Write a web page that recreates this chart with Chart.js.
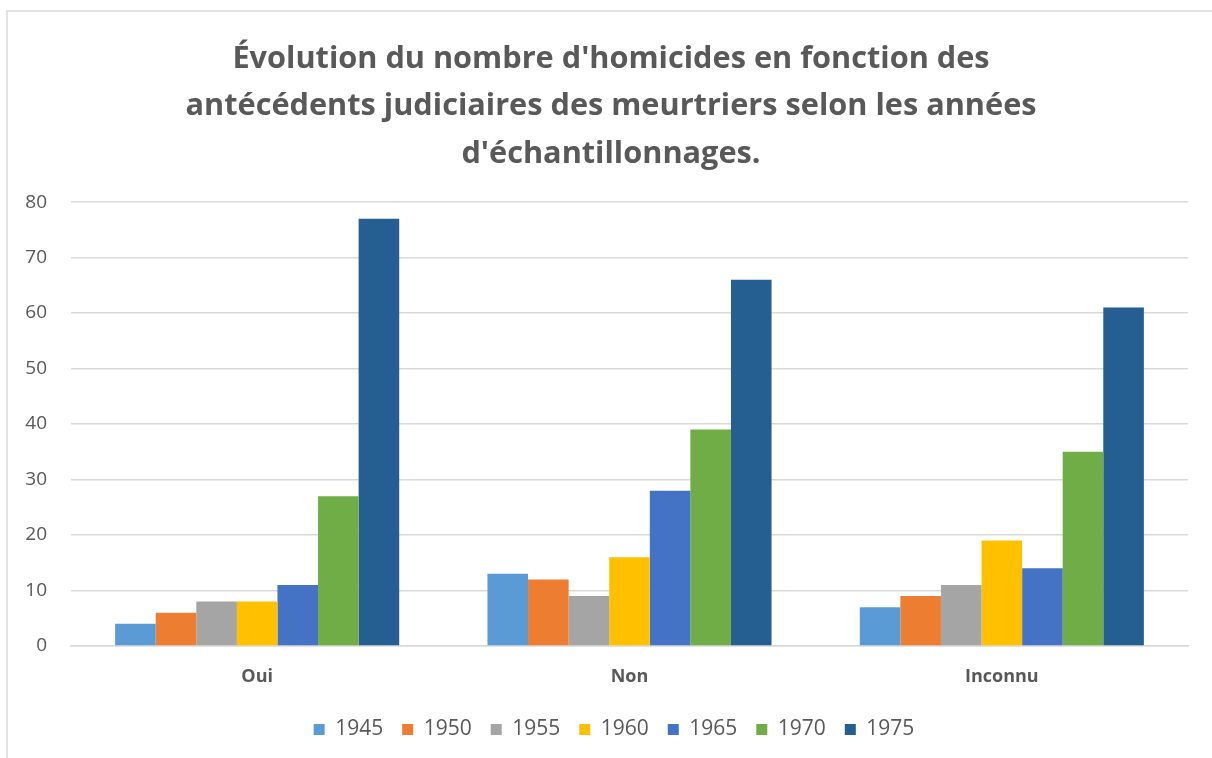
<!DOCTYPE html>
<html><head><meta charset="utf-8">
<script src="https://cdn.jsdelivr.net/npm/chart.js@4/dist/chart.umd.min.js"></script>
<style>html,body{margin:0;padding:0;background:#fff}#wrap{width:1212px;height:758px;position:relative}</style>
</head><body><div id="wrap"><canvas id="c" width="1212" height="758"></canvas></div>
<script>
const categories = ["Oui", "Non", "Inconnu"];
const years = ["1945", "1950", "1955", "1960", "1965", "1970", "1975"];
const v1945 = [4, 13, 7];
const v1950 = [6, 12, 9];
const v1955 = [8, 9, 11];
const v1960 = [8, 16, 19];
const v1965 = [11, 28, 14];
const v1970 = [27, 39, 35];
const v1975 = [77, 66, 61];
const seriesValues = [v1945, v1950, v1955, v1960, v1965, v1970, v1975];
const colors = ["#5B9BD5", "#ED7D31", "#A5A5A5", "#FFC000", "#4472C4", "#70AD47", "#255E91"];
const yTicks = [0, 10, 20, 30, 40, 50, 60, 70, 80];
const titleLines = ["Évolution du nombre d'homicides en fonction des", "antécédents judiciaires des meurtriers selon les années", "d'échantillonnages."];

const FONT = "'Open Sans', 'Liberation Sans', sans-serif";
const frame = {
  id: 'frame',
  afterLayout(chart) {
    if (chart.titleBlock) { chart.titleBlock.left += 7; chart.titleBlock.right += 7; }
    if (chart.legend) { chart.legend.left += 10; chart.legend.right += 10; }
  },
  beforeDraw(chart) {
    const ctx = chart.ctx;
    ctx.save();
    ctx.strokeStyle = '#d9d9d9';
    ctx.lineWidth = 1.5;
    ctx.beginPath();
    ctx.moveTo(7, 758); ctx.lineTo(7, 11); ctx.lineTo(1212, 11);
    ctx.stroke();
    ctx.restore();
  }
};

new Chart(document.getElementById('c'), {
  type: 'bar',
  data: {
    labels: categories,
    datasets: years.map((y, i) => ({
      label: y, data: seriesValues[i], backgroundColor: colors[i], borderWidth: 0,
      categoryPercentage: 0.763, barPercentage: 1.0
    }))
  },
  options: {
    responsive: false, animation: false,
    layout: { padding: { left: 20, right: 24, top: 18, bottom: 8 } },
    plugins: {
      title: { display: true, text: titleLines, color: '#595959',
        font: { family: FONT, size: 30.7, weight: 'bold', lineHeight: 1.554 },
        padding: { top: 17, bottom: 24 } },
      legend: { position: 'bottom',
        labels: { color: '#595959', boxWidth: 11, boxHeight: 11, padding: 19,
          font: { family: FONT, size: 21 } } },
      tooltip: { enabled: false }
    },
    scales: {
      x: {
        grid: { display: false, drawTicks: false },
        border: { color: '#d9d9d9', width: 1.5 },
        ticks: { color: '#595959', padding: 20, font: { family: FONT, size: 18, weight: 'bold' } },
        afterFit(s) { s.height = 54; }
      },
      y: {
        min: 0, max: 80,
        afterBuildTicks(s) { s.ticks = yTicks.map(v => ({ value: v })); },
        grid: { color: '#d9d9d9', lineWidth: 1.5, drawTicks: false },
        border: { display: false },
        ticks: { color: '#595959', padding: 24, font: { family: FONT, size: 19 } },
        afterFit(s) { s.width = 51; }
      }
    }
  },
  plugins: [frame]
});
</script></body></html>
